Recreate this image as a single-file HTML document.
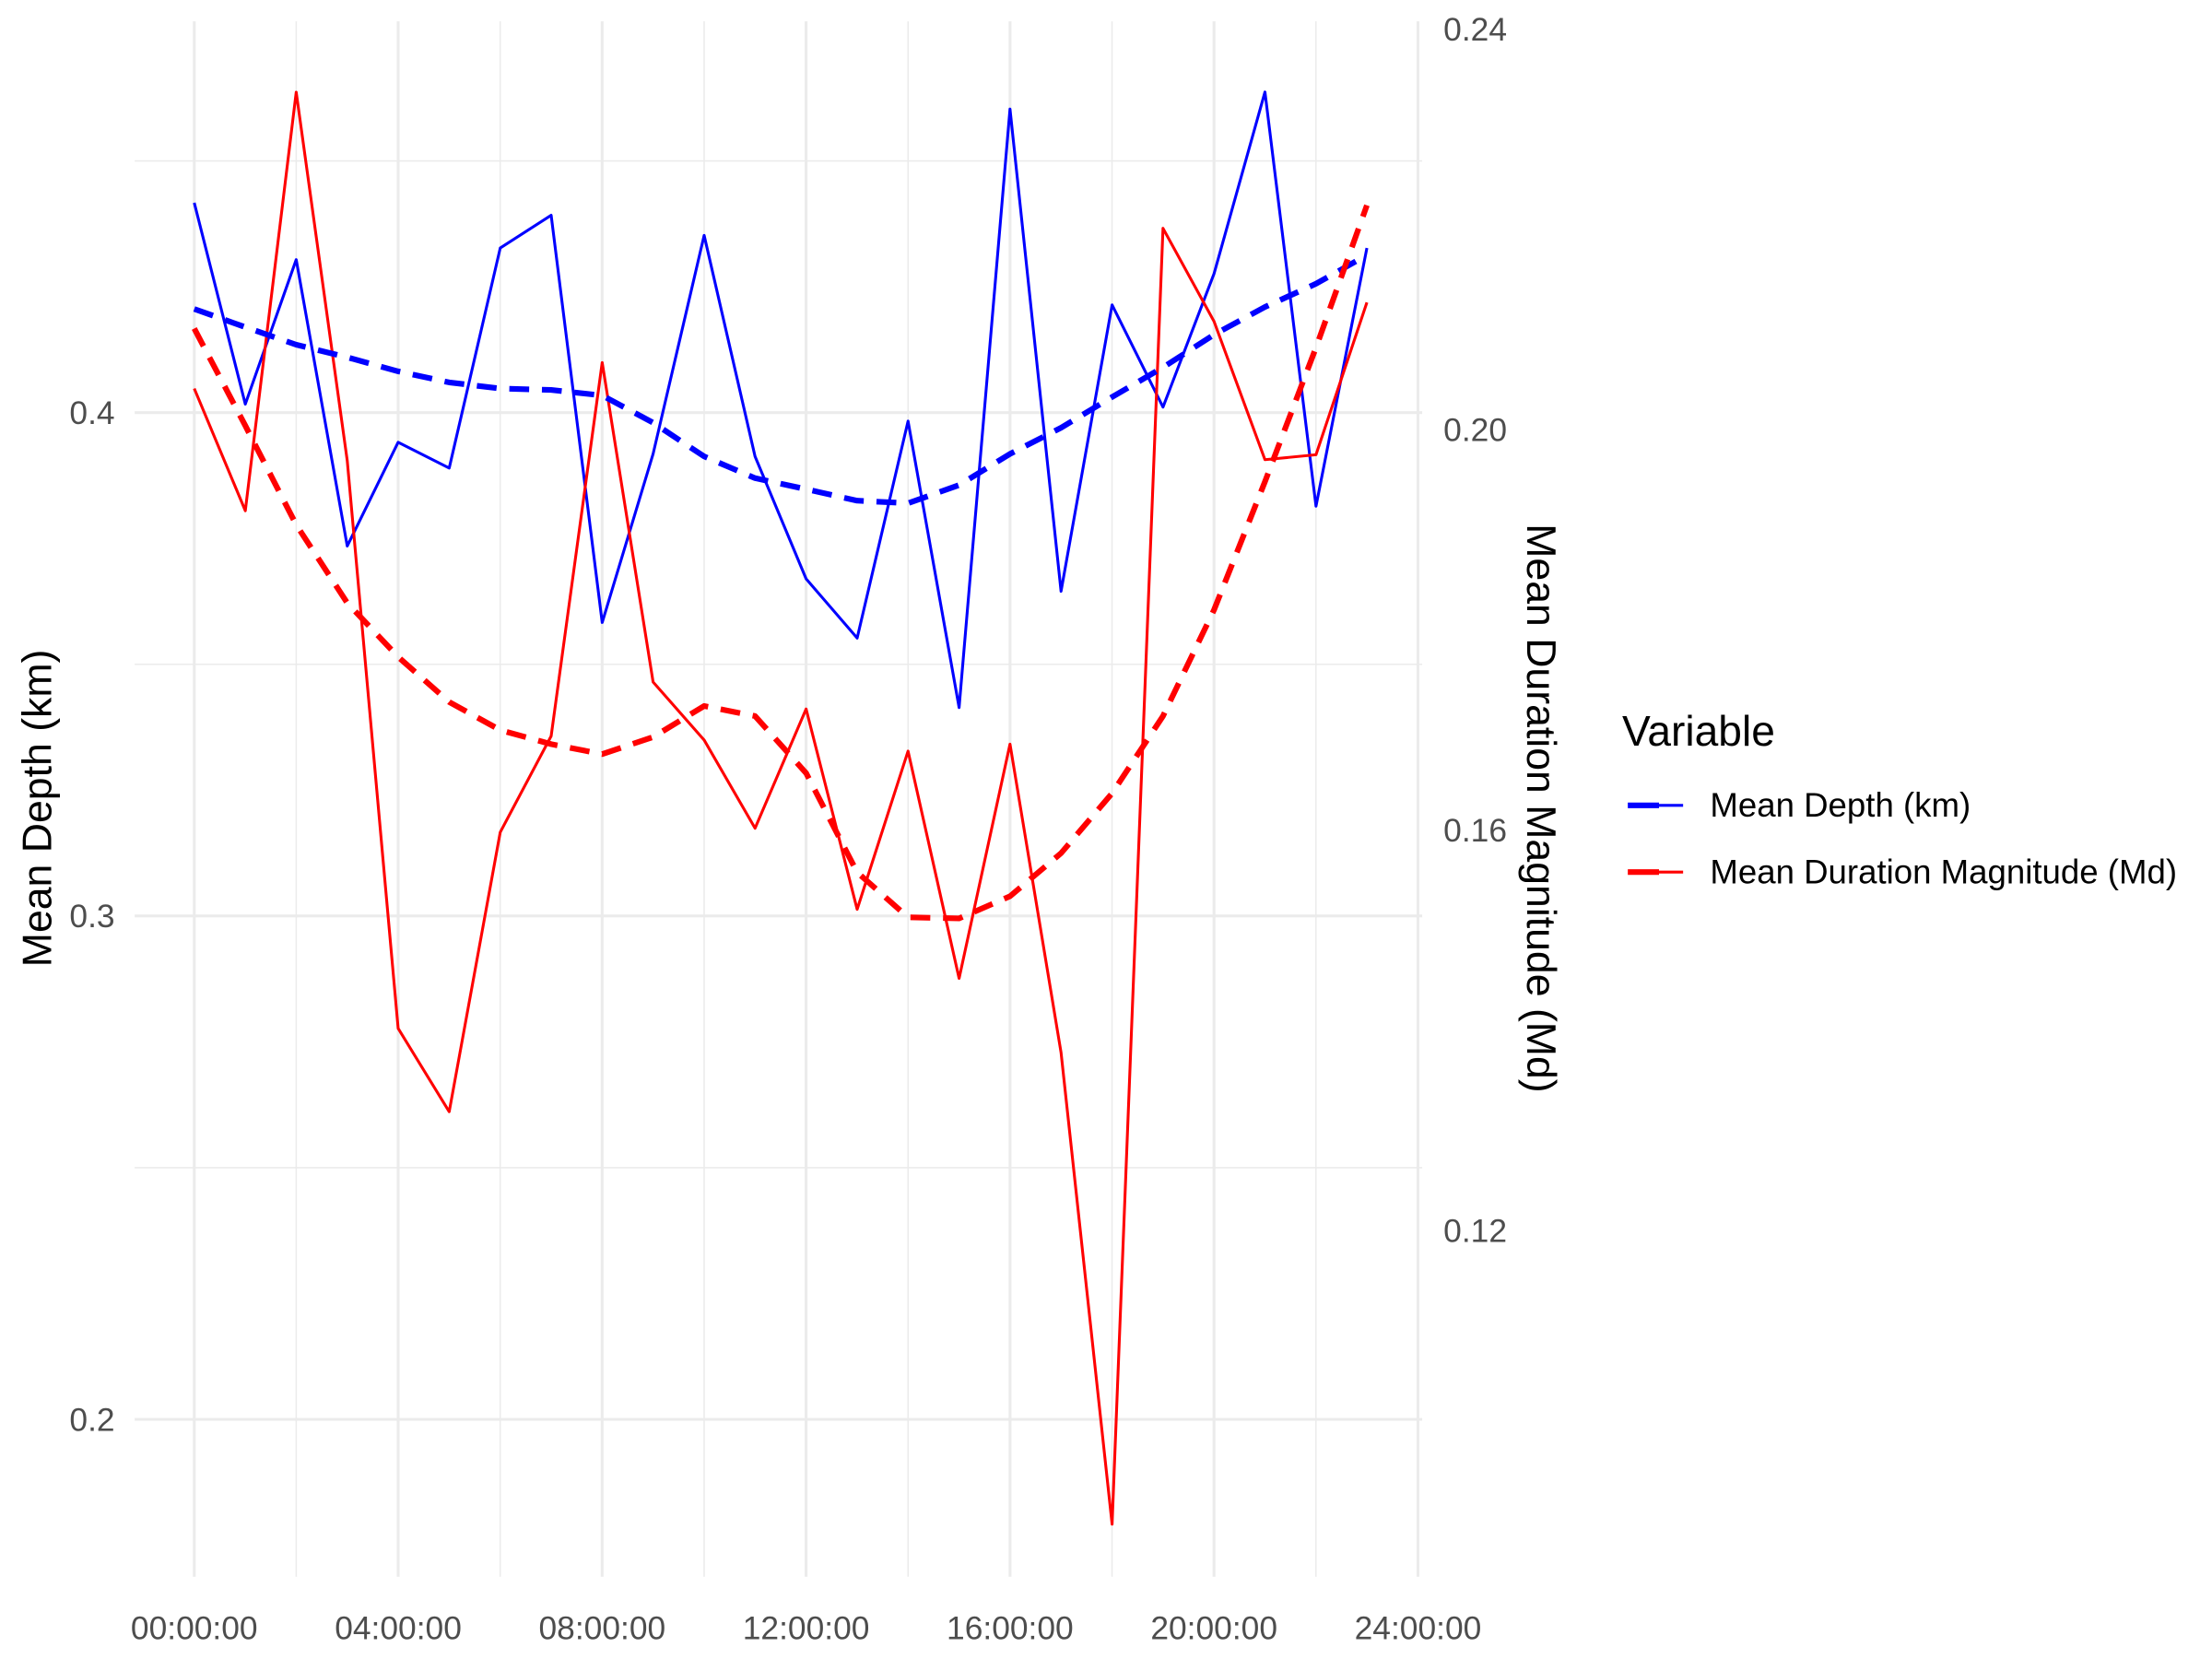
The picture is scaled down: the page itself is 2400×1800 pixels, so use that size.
<!DOCTYPE html>
<html><head><meta charset="utf-8"><style>
html,body{margin:0;padding:0;background:#fff}
svg{display:block}
text{font-family:"Liberation Sans",sans-serif}
</style></head><body>
<svg id="chart" width="2400" height="1800" viewBox="0 0 1560 1170" xmlns="http://www.w3.org/2000/svg">
<g id="grid"></g>
<g id="series"></g>
<g id="axes"></g>
<text transform="translate(36,570) rotate(-90)" text-anchor="middle" font-size="29" fill="#000">Mean Depth (km)</text>
<text transform="translate(1077,570) rotate(90)" text-anchor="middle" font-size="29" fill="#000">Mean Duration Magnitude (Md)</text>
<g>
<text x="1144" y="526" font-size="30" fill="#000">Variable</text>
<g>
<line x1="1148" y1="568" x2="1170" y2="568" stroke="#0000ff" stroke-width="4"/>
<line x1="1170" y1="568" x2="1187" y2="568" stroke="#0000ff" stroke-width="2"/>
<text x="1206" y="576" font-size="23.8" fill="#000">Mean Depth (km)</text></g>
<g>
<line x1="1148" y1="615" x2="1170" y2="615" stroke="#ff0000" stroke-width="4"/>
<line x1="1170" y1="615" x2="1187" y2="615" stroke="#ff0000" stroke-width="2"/>
<text x="1206" y="623" font-size="23.8" fill="#000">Mean Duration Magnitude (Md)</text></g>
</g>
</svg>
<script>
const hours=[0,1,2,3,4,5,6,7,8,9,10,11,12,13,14,15,16,17,18,19,20,21,22,23];
const depth=[0.4417,0.4017,0.4304,0.3735,0.3941,0.389,0.4327,0.4392,0.3583,0.3918,0.4352,0.3913,0.367,0.3552,0.3983,0.3414,0.4603,0.3645,0.4214,0.4011,0.4276,0.4637,0.3814,0.4327];
const depthSmooth=[0.4206,0.417,0.4135,0.411,0.4082,0.406,0.4048,0.4045,0.4034,0.398,0.3913,0.387,0.3848,0.3825,0.382,0.3856,0.3918,0.397,0.4031,0.409,0.4155,0.421,0.4256,0.4313];
const mag=[0.2041,0.1919,0.2337,0.1969,0.1402,0.1319,0.1598,0.1694,0.2067,0.1748,0.169,0.1602,0.1721,0.1521,0.1679,0.1452,0.1686,0.1378,0.0907,0.2201,0.2108,0.197,0.1975,0.2127];
const magSmooth=[0.2101,0.2004,0.1905,0.1827,0.1773,0.1728,0.17,0.1686,0.1676,0.1693,0.1724,0.1714,0.1657,0.1558,0.1513,0.1512,0.1534,0.1577,0.1637,0.1714,0.182,0.1948,0.2082,0.2224];
const xTicks=[0,4,8,12,16,20,24];
const xTickLabels=["00:00:00","04:00:00","08:00:00","12:00:00","16:00:00","20:00:00","24:00:00"];
const yTicks=[0.2,0.3,0.4];
const yTickLabels=["0.2","0.3","0.4"];
const y2Ticks=[0.12,0.16,0.20,0.24];
const y2TickLabels=["0.12","0.16","0.20","0.24"];

const NS="http://www.w3.org/2000/svg";
const X=h=>137+h*(1000-137)/24;
const Y=v=>291-(v-0.4)*3550;
const Y2=v=>303-(v-0.2)*7062.5;
function mk(tag,attrs,parent){const e=document.createElementNS(NS,tag);for(const k in attrs)e.setAttribute(k,attrs[k]);parent.appendChild(e);return e;}
const grid=document.getElementById('grid'),series=document.getElementById('series'),axes=document.getElementById('axes');
const L=95,R=1003,T=15,B=1112;
[0.15,0.25,0.35,0.45].forEach(v=>{const y=Y(v);if(y>T&&y<B){const l=mk('line',{x1:L,x2:R,y1:y,y2:y,stroke:'#ebebeb','stroke-width':1},grid);

}});
yTicks.forEach((v,i)=>{const y=Y(v);const l=mk('line',{x1:L,x2:R,y1:y,y2:y,stroke:'#ebebeb','stroke-width':2},grid);


const t=mk('text',{x:81,y:y+8,'text-anchor':'end','font-size':23,fill:'#4d4d4d'},axes);t.textContent=yTickLabels[i];

});
y2Ticks.forEach((v,i)=>{const y=Y2(v);const t=mk('text',{x:1018,y:y+8,'font-size':23,fill:'#4d4d4d'},axes);t.textContent=y2TickLabels[i];

});
[2,6,10,14,18,22].forEach(h=>{const x=X(h);const l=mk('line',{x1:x,x2:x,y1:T,y2:B,stroke:'#ebebeb','stroke-width':1},grid);

});
xTicks.forEach((h,i)=>{const x=X(h);const l=mk('line',{x1:x,x2:x,y1:T,y2:B,stroke:'#ebebeb','stroke-width':2},grid);


const t=mk('text',{x:x,y:1156,'text-anchor':'middle','font-size':23,fill:'#4d4d4d'},axes);t.textContent=xTickLabels[i];

});
function path(vals,yf,color,w,dash,name){const d=vals.map((v,i)=>(i?'L':'M')+X(hours[i]).toFixed(1)+','+yf(v).toFixed(1)).join(' ');
const a={d:d,fill:'none',stroke:color,'stroke-width':w,'stroke-linejoin':'round'};if(dash)a['stroke-dasharray']=dash;
const p=mk('path',a,series);

}
path(depth,Y,'#0000ff',2,null,'depth-line');
path(mag,Y2,'#ff0000',2,null,'magnitude-line');
path(depthSmooth,Y,'#0000ff',4,'14,9','depth-trend-line');
path(magSmooth,Y2,'#ff0000',4,'14,9','magnitude-trend-line');
</script>
</body></html>
